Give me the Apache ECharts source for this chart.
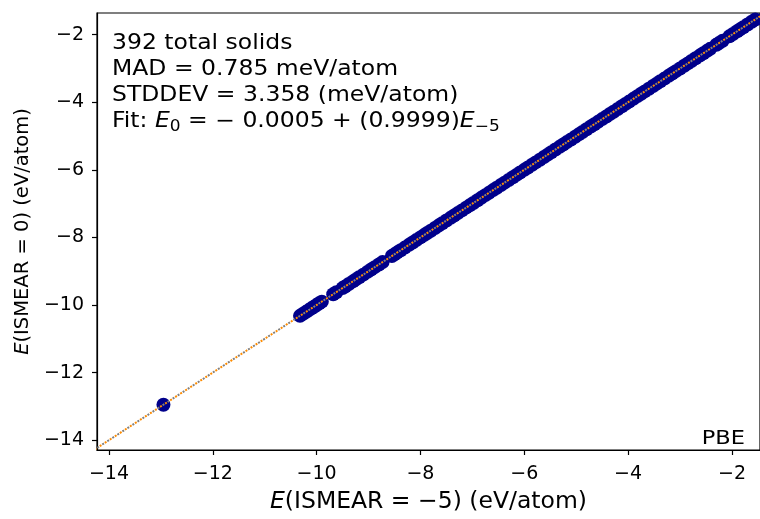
<!DOCTYPE html>
<html>
<head>
<meta charset="utf-8">
<script src="https://cdn.jsdelivr.net/npm/echarts@6/dist/echarts.min.js"></script>
<style>
html,body{margin:0;padding:0;background:#fff;}
#chart{width:760px;height:519px;}
</style>
</head>
<body>
<div id="chart"></div>
<script>
// E(ISMEAR=-5) values (x) and E(ISMEAR=0) values (y), eV/atom
const xValues = [
  -12.95,
  -10.32, -10.26, -10.20, -10.15, -10.10, -10.05, -10.00, -9.95, -9.90,
  -9.68, -9.62,
  -9.50, -9.45, -9.38, -9.30, -9.25, -9.18, -9.10, -9.02, -8.95, -8.88, -8.80, -8.73,
  -8.55, -8.50, -8.45, -8.38, -8.30, -8.22, -8.15, -8.08, -8.00, -7.93, -7.87, -7.80,
  -7.72, -7.65, -7.58, -7.50, -7.42, -7.35, -7.28, -7.20, -7.12, -7.05, -6.98, -6.90,
  -6.83, -6.75, -6.68, -6.60, -6.53, -6.45, -6.38, -6.30, -6.22, -6.15, -6.08, -6.00,
  -5.93, -5.85, -5.78, -5.70, -5.62, -5.55, -5.48, -5.40, -5.32, -5.25, -5.18, -5.10,
  -5.02, -4.95, -4.88, -4.80, -4.72, -4.65, -4.58, -4.50, -4.42, -4.35, -4.28, -4.20,
  -4.12, -4.05, -3.98, -3.90, -3.82, -3.75, -3.68, -3.60, -3.52, -3.45, -3.38, -3.30,
  -3.22, -3.15, -3.08, -3.00, -2.92, -2.85, -2.78, -2.70, -2.62, -2.55, -2.48, -2.42,
  -2.30, -2.25, -2.18, -2.05, -1.98, -1.90, -1.85, -1.78, -1.70, -1.62, -1.55
];
const yValues = [
  -12.951,
  -10.321, -10.260, -10.201, -10.150, -10.099, -10.051, -10.000, -9.950, -9.901,
  -9.680, -9.621,
  -9.500, -9.451, -9.380, -9.301, -9.250, -9.180, -9.101, -9.020, -8.951, -8.880, -8.800, -8.731,
  -8.550, -8.501, -8.450, -8.380, -8.301, -8.220, -8.151, -8.080, -8.000, -7.931, -7.870, -7.801,
  -7.720, -7.651, -7.580, -7.500, -7.421, -7.350, -7.281, -7.200, -7.120, -7.051, -6.980, -6.901,
  -6.830, -6.750, -6.681, -6.600, -6.530, -6.451, -6.380, -6.300, -6.221, -6.150, -6.080, -6.001,
  -5.930, -5.850, -5.781, -5.700, -5.620, -5.551, -5.480, -5.400, -5.321, -5.250, -5.180, -5.101,
  -5.020, -4.950, -4.881, -4.800, -4.720, -4.651, -4.580, -4.500, -4.421, -4.350, -4.280, -4.201,
  -4.120, -4.050, -3.981, -3.900, -3.820, -3.751, -3.680, -3.600, -3.521, -3.450, -3.380, -3.301,
  -3.220, -3.150, -3.081, -3.000, -2.920, -2.851, -2.780, -2.700, -2.621, -2.550, -2.480, -2.420,
  -2.301, -2.250, -2.180, -2.051, -1.980, -1.900, -1.851, -1.780, -1.700, -1.620, -1.550
];
// identity line y = x
const identityX = [-15, -1];
const identityY = [-15, -1];
// fit line E0 = -0.0005 + 0.9999 E-5
const fitX = [-15, -1];
const fitY = [-14.999, -1.0004];
// tick labels
const xTicks = [-14, -12, -10, -8, -6, -4, -2];
const yTicks = [-14, -12, -10, -8, -6, -4, -2];

const points = xValues.map((x, i) => [x, yValues[i]]);
const FONT = 'DejaVu Sans';
const TICK = 19;
const T = 23.5;
const SY = 0.88;
const LH = 26.3 / SY;
const minus = v => String(v).replace('-', '\u2212');

const chart = echarts.init(document.getElementById('chart'), null, {renderer: 'canvas'});
const axisCommon = {
  type: 'value',
  splitLine: {show: false},
  axisLine: {show: true, onZero: false, lineStyle: {color: '#000', width: 1.2}},
  axisTick: {show: true, inside: false, length: 5, lineStyle: {color: '#000', width: 1.2}, customValues: null},
  axisLabel: {color: '#000', fontFamily: FONT, fontSize: TICK, formatter: minus, customValues: null, margin: 13}
};
const xAxis = echarts.util.merge({}, axisCommon, true);
xAxis.min = -14.23; xAxis.max = -1.46;
xAxis.axisTick.customValues = xTicks;
xAxis.axisLabel.customValues = xTicks;
xAxis.axisLabel.margin = 15;
xAxis.name = '{i|E}(ISMEAR = \u22125) (eV/atom)';
xAxis.nameLocation = 'middle';
xAxis.nameGap = 40;
xAxis.nameTextStyle = {color: '#000', fontFamily: FONT, fontSize: T, rich: {i: {fontStyle: 'italic', fontFamily: FONT, fontSize: T, color: '#000'}}};

const yAxis = echarts.util.merge({}, axisCommon, true);
yAxis.min = -14.29; yAxis.max = -1.36;
yAxis.axisTick.customValues = yTicks;
yAxis.axisLabel.customValues = yTicks;
yAxis.name = '{i|E}(ISMEAR = 0) (eV/atom)';
yAxis.nameLocation = 'middle';
yAxis.nameGap = 64;
yAxis.nameTextStyle = {color: '#000', fontFamily: FONT, fontSize: 19.5, rich: {i: {fontStyle: 'italic', fontFamily: FONT, fontSize: 19.5, color: '#000'}}};

chart.setOption({
  animation: false,
  backgroundColor: '#fff',
  grid: {left: 97, top: 13, right: -1, bottom: 62, show: true, borderColor: '#000', borderWidth: 1.2, containLabel: false},
  xAxis: xAxis,
  yAxis: yAxis,
  graphic: [{
    type: 'text',
    x: 112, y: 30, scaleY: SY,
    z: 100,
    style: {
      text: '{n|392 total solids}\n{n|MAD = 0.785 meV/atom}\n{n|STDDEV = 3.358 (meV/atom)}\n{n|Fit: }{i|E}{s|0}{n| = \u2212 0.0005 + (0.9999)}{i|E}{s|\u22125}',
      fontFamily: FONT, fontSize: T, fill: '#000', lineHeight: LH,
      rich: {
        n: {fontFamily: FONT, fontSize: T, fill: '#000', lineHeight: LH},
        i: {fontFamily: FONT, fontSize: T, fontStyle: 'italic', fill: '#000', lineHeight: LH},
        s: {fontFamily: FONT, fontSize: 17, fill: '#000', lineHeight: LH, padding: [12, 0, 0, 0]}
      }
    }
  }, {
    type: 'text',
    x: 745, y: 439, scaleY: SY,
    z: 100,
    style: {
      text: 'PBE', fontFamily: FONT, fontSize: 22.5, fill: '#000', align: 'right', verticalAlign: 'middle'
    }
  }],
  series: [{
    type: 'scatter',
    data: points,
    symbol: 'circle',
    symbolSize: 14,
    itemStyle: {color: '#00008b', opacity: 1},
    z: 2
  }, {
    type: 'line',
    data: identityX.map((x, i) => [x, identityY[i]]),
    showSymbol: false,
    symbol: 'none',
    lineStyle: {color: '#808080', width: 2, type: [2, 4], dashOffset: 0},
    z: 3,
    clip: true
  }, {
    type: 'line',
    data: fitX.map((x, i) => [x, fitY[i]]),
    showSymbol: false,
    symbol: 'none',
    lineStyle: {color: '#ff8c00', width: 2, type: [2, 4], dashOffset: 3},
    z: 4,
    clip: true
  }]
});
</script>
</body>
</html>
